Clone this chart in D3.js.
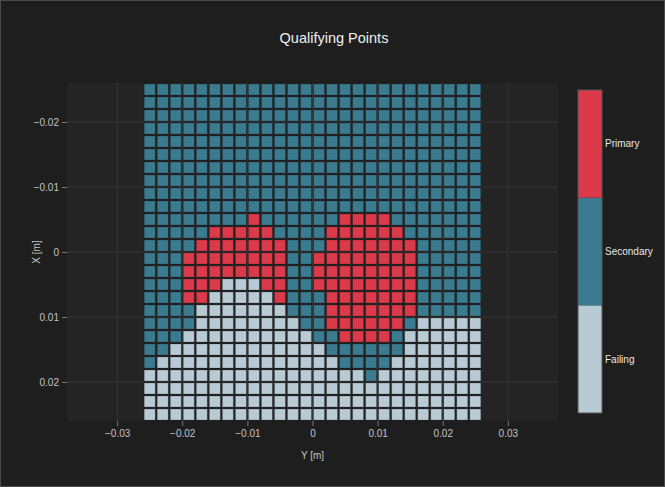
<!DOCTYPE html>
<html>
<head>
<meta charset="utf-8">
<script src="https://cdn.jsdelivr.net/npm/d3@7"></script>
<style>
  html, body { margin: 0; padding: 0; background: #1e1e1e; }
  svg { display: block; font-family: "Liberation Sans", Arial, Helvetica, sans-serif; }
</style>
</head>
<body>
<svg id="chart"></svg>
<script>
// grid of qualifying points, top row first (X = -0.025 .. 0.025), columns Y = -0.025 .. 0.025
// P = Primary, S = Secondary, F = Failing
var gridRows = [
  "SSSSSSSSSSSSSSSSSSSSSSSSSS",
  "SSSSSSSSSSSSSSSSSSSSSSSSSS",
  "SSSSSSSSSSSSSSSSSSSSSSSSSS",
  "SSSSSSSSSSSSSSSSSSSSSSSSSS",
  "SSSSSSSSSSSSSSSSSSSSSSSSSS",
  "SSSSSSSSSSSSSSSSSSSSSSSSSS",
  "SSSSSSSSSSSSSSSSSSSSSSSSSS",
  "SSSSSSSSSSSSSSSSSSSSSSSSSS",
  "SSSSSSSSSSSSSSSSSSSSSSSSSS",
  "SSSSSSSSSSSSSSSSSSSSSSSSSS",
  "SSSSSSSSPSSSSSSPPPPSSSSSSS",
  "SSSSSPPPPPSSSSPPPPPPSSSSSS",
  "SSSSPPPPPPPSSSPPPPPPPSSSSS",
  "SSSPPPPPPPPSSPPPPPPPPSSSSS",
  "SSSPPPPPPPPSSPPPPPPPPSSSSS",
  "SSSPPPFFFPPSSPPPPPPPPSSSSS",
  "SSSPPFFFFFPSSSPPPPPPPSSSSS",
  "SSSSFFFFFFFSSSPPPPPPPSSSSS",
  "SSSSFFFFFFFFSSPPPPPPSFFFFF",
  "SSSFFFFFFFFFFSSPPPPSFFFFFF",
  "SSFFFFFFFFFFFFSSSSSSFFFFFF",
  "SFFFFFFFFFFFFFFSSSSFFFFFFF",
  "FFFFFFFFFFFFFFFFFSFFFFFFFF",
  "FFFFFFFFFFFFFFFFFFFFFFFFFF",
  "FFFFFFFFFFFFFFFFFFFFFFFFFF",
  "FFFFFFFFFFFFFFFFFFFFFFFFFF"
];
var cellSize = 0.002;
var gridMin  = -0.026;

var categoryCodes  = ["F", "S", "P"];
var categoryNames  = ["Failing", "Secondary", "Primary"];
var categoryColors = ["#b8cbd5", "#3b7b90", "#db3a4a"];

var yTicks = [-0.03, -0.02, -0.01, 0, 0.01, 0.02, 0.03];   // horizontal axis (Y [m])
var xTicks = [-0.02, -0.01, 0, 0.01, 0.02];                // vertical axis (X [m])

var width  = 665,
    height = 487;
var margin = {left: 67, right: 107, top: 83, bottom: 66};

var svg = d3.select("#chart")
              .attr("width",  width)
              .attr("height", height);

svg.append("rect")
    .attr("x", 0.5).attr("y", 0.5)
    .attr("width", width - 1).attr("height", height - 1)
    .attr("fill", "#1e1e1e")
    .attr("stroke", "#4a4a4a");

var sx = d3.scaleLinear().domain([-0.0377, 0.0377]).range([margin.left, width - margin.right]);
var sy = d3.scaleLinear().domain([-0.026, 0.026]).range([margin.top, height - margin.bottom]);

var color = d3.scaleOrdinal().domain(categoryCodes).range(categoryColors);

// plot background
svg.append("rect")
    .attr("x", sx.range()[0]).attr("y", sy.range()[0])
    .attr("width", sx.range()[1] - sx.range()[0])
    .attr("height", sy.range()[1] - sy.range()[0])
    .attr("fill", "#242424");

// grid lines
svg.append("g")
    .selectAll("line")
    .data(yTicks)
    .enter().append("line")
      .attr("x1", function (d) { return sx(d); })
      .attr("x2", function (d) { return sx(d); })
      .attr("y1", sy.range()[0])
      .attr("y2", sy.range()[1])
      .attr("stroke", "#363636");
svg.append("g")
    .selectAll("line")
    .data(xTicks)
    .enter().append("line")
      .attr("y1", function (d) { return sy(d); })
      .attr("y2", function (d) { return sy(d); })
      .attr("x1", sx.range()[0])
      .attr("x2", sx.range()[1])
      .attr("stroke", "#363636");

// cells
var cells = [];
gridRows.forEach(function (row, r) {
    row.split("").forEach(function (c, k) {
        cells.push({x: gridMin + k*cellSize, y: gridMin + r*cellSize, code: c});
    });
});

var gap = 1;
svg.append("g")
    .selectAll("rect")
    .data(cells)
    .enter().append("rect")
      .attr("x", function (d) { return sx(d.x) + gap; })
      .attr("y", function (d) { return sy(d.y) + gap; })
      .attr("width",  function (d) { return sx(d.x + cellSize) - sx(d.x) - 2*gap; })
      .attr("height", function (d) { return sy(d.y + cellSize) - sy(d.y) - 2*gap; })
      .attr("fill",   function (d) { return color(d.code); })
      .attr("stroke", "rgba(0,0,0,0.25)")
      .attr("stroke-width", 0.8);

var fmt = function (d) { return d === 0 ? "0" : d3.format(".2f")(d).replace("-", "\u2212"); };

// axes
var xAxis = svg.append("g")
    .attr("transform", "translate(0," + sy.range()[1] + ")")
    .call(d3.axisBottom(sx).tickValues(yTicks).tickFormat(fmt).tickSize(5).tickPadding(4));
var yAxis = svg.append("g")
    .attr("transform", "translate(" + sx.range()[0] + ",0)")
    .call(d3.axisLeft(sy).tickValues(xTicks).tickFormat(fmt).tickSize(5).tickPadding(3));

[xAxis, yAxis].forEach(function (a) {
    a.select(".domain").remove();
    a.selectAll("line").attr("stroke", "#777");
    a.selectAll("text").attr("fill", "#c4c4c4").style("font-size", "10px");
});

svg.append("text")
    .attr("x", sx(0)).attr("y", 459)
    .attr("text-anchor", "middle")
    .attr("fill", "#c4c4c4")
    .style("font-size", "10px")
    .text("Y [m]");

svg.append("text")
    .attr("transform", "translate(40," + sy(0) + ") rotate(-90)")
    .attr("text-anchor", "middle")
    .attr("fill", "#c4c4c4")
    .style("font-size", "10px")
    .text("X [m]");

svg.append("text")
    .attr("x", 334).attr("y", 43)
    .attr("text-anchor", "middle")
    .attr("fill", "#f0f0f0")
    .style("font-size", "14.5px")
    .text("Qualifying Points");

// colour bar
var cbX = 578, cbW = 24;
var cb = d3.scaleBand().domain(categoryCodes.slice().reverse()).range([90, 413]);
var bar = svg.append("g");
bar.selectAll("rect")
    .data(categoryCodes)
    .enter().append("rect")
      .attr("x", cbX)
      .attr("y", function (d) { return cb(d); })
      .attr("width", cbW)
      .attr("height", cb.bandwidth())
      .attr("fill", function (d) { return color(d); });
bar.append("rect")
    .attr("x", cbX).attr("y", 90)
    .attr("width", cbW).attr("height", 323)
    .attr("fill", "none")
    .attr("stroke", "#555");
bar.selectAll("text")
    .data(categoryCodes)
    .enter().append("text")
      .attr("x", cbX + cbW + 3)
      .attr("y", function (d) { return cb(d) + cb.bandwidth()/2; })
      .attr("dy", "0.35em")
      .attr("fill", "#e8e8e8")
      .style("font-size", "10px")
      .text(function (d, i) { return categoryNames[i]; });
</script>
</body>
</html>
